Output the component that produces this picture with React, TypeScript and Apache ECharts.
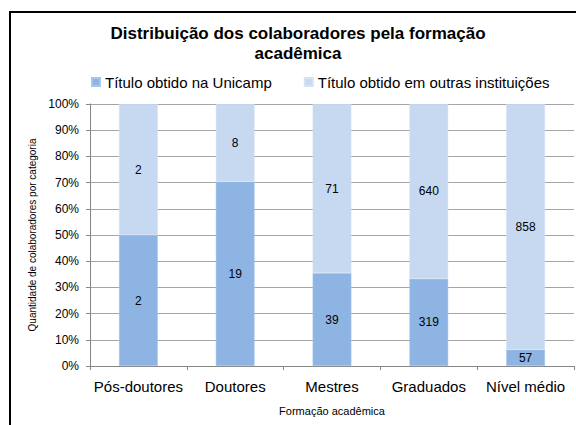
import React, { useEffect, useRef } from "react";
import * as echarts from "echarts";

const categories = ["Pós-doutores", "Doutores", "Mestres", "Graduados", "Nível médio"];
const unicampValues = [2, 19, 39, 319, 57];
const otherValues = [2, 8, 71, 640, 858];
const seriesNames = ["Título obtido na Unicamp", "Título obtido em outras instituições"];
const titleLines = ["Distribuição dos colaboradores pela formação", "acadêmica"];
const yAxisName = "Quantidade de colaboradores por categoria";
const xAxisName = "Formação acadêmica";

const FONT = "'Liberation Sans', Arial, sans-serif";

export default function App() {
  const ref = useRef<HTMLDivElement>(null);
  useEffect(() => {
    if (!ref.current) return;
    const chart = echarts.init(ref.current, null, { renderer: "svg" });
    const totals = categories.map((_, i) => unicampValues[i] + otherValues[i]);
    const pctU = unicampValues.map((v, i) => ({ value: (v / totals[i]) * 100, raw: v }));
    const pctO = otherValues.map((v, i) => ({ value: (v / totals[i]) * 100, raw: v }));
    const gridColor = "#A6A6A6";
    const labelFmt = (p: any) => String(p.data.raw);
    chart.setOption({
      animation: false,
      backgroundColor: "#ffffff",
      textStyle: { fontFamily: FONT },
      graphic: [
        {
          type: "line",
          shape: { x1: 10, y1: 11, x2: 10, y2: 430 },
          style: { stroke: "#000", lineWidth: 2 },
          silent: true,
        },
        {
          type: "line",
          shape: { x1: 9, y1: 12, x2: 580, y2: 12 },
          style: { stroke: "#000", lineWidth: 2 },
          silent: true,
        },
        {
          type: "text",
          x: 298,
          y: 23,
          style: {
            text: titleLines.join("\n"),
            fontFamily: FONT,
            fontSize: 17,
            fontWeight: "bold",
            fill: "#000",
            textAlign: "center",
            textVerticalAlign: "top",
            lineHeight: 20,
          },
        },
      ],
      legend: {
        left: 91,
        top: 74,
        padding: 0,
        icon: "rect",
        itemWidth: 8,
        itemHeight: 8,
        itemGap: 32,
        textStyle: { fontFamily: FONT, fontSize: 15, lineHeight: 16, color: "#000" },
        data: seriesNames,
      },
      grid: { left: 90, right: 2, top: 104, bottom: 59, containLabel: false },
      xAxis: {
        type: "category",
        data: categories,
        name: xAxisName,
        nameLocation: "middle",
        nameGap: 39,
        nameTextStyle: { fontFamily: FONT, fontSize: 11, color: "#000" },
        axisLine: { lineStyle: { color: "#868686" } },
        axisTick: { show: true, length: 4, lineStyle: { color: "#868686" } },
        axisLabel: { fontFamily: FONT, fontSize: 15, color: "#000", margin: 13, interval: 0 },
      },
      yAxis: {
        type: "value",
        min: 0,
        max: 100,
        interval: 10,
        name: yAxisName,
        nameLocation: "middle",
        nameRotate: 90,
        nameGap: 53,
        nameTextStyle: { fontFamily: FONT, fontSize: 10, color: "#000" },
        axisLine: { show: true, lineStyle: { color: "#868686" } },
        axisTick: { show: true, length: 4, lineStyle: { color: "#868686" } },
        axisLabel: { fontFamily: FONT, fontSize: 12, color: "#000", margin: 11, formatter: "{value}%" },
        splitLine: { lineStyle: { color: gridColor } },
      },
      series: [
        {
          name: seriesNames[0],
          type: "bar",
          stack: "total",
          barWidth: "40%",
          data: pctU,
          itemStyle: { color: "#8EB4E3", borderColor: "#A9C6EA", borderWidth: 0.5 },
          label: { show: true, position: "inside", formatter: labelFmt, color: "#000", fontSize: 12, fontFamily: FONT },
        },
        {
          name: seriesNames[1],
          type: "bar",
          stack: "total",
          barWidth: "40%",
          data: pctO,
          itemStyle: { color: "#C6D9F1", borderColor: "#D5E3F5", borderWidth: 0.5 },
          label: { show: true, position: "inside", formatter: labelFmt, color: "#000", fontSize: 12, fontFamily: FONT },
        },
      ],
    });
    return () => chart.dispose();
  }, []);
  return (
    <div
      ref={ref}
      style={{ position: "fixed", left: 0, top: 0, width: 576, height: 425, background: "#fff" }}
    />
  );
}
